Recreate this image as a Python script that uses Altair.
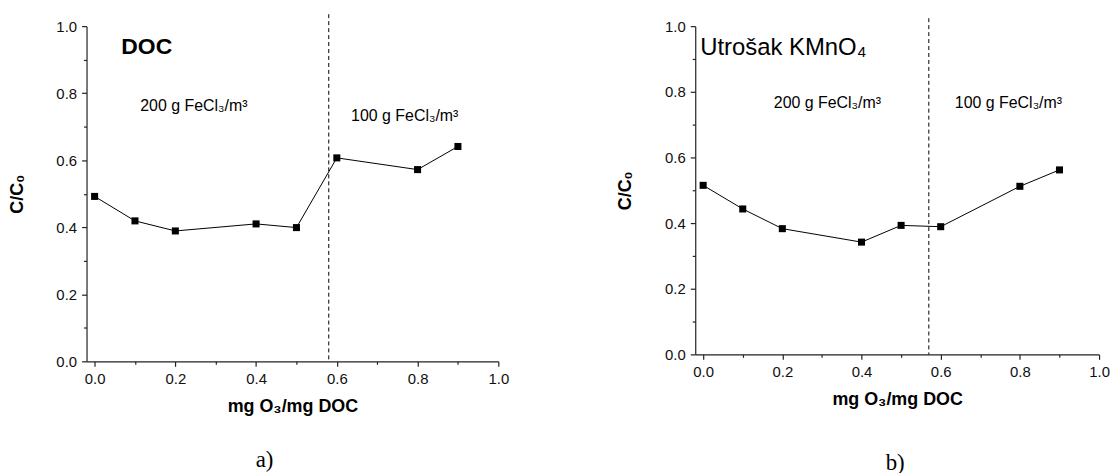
import altair as alt
import pandas as pd

# ---- data ----
x_vals = [0.0, 0.1, 0.2, 0.4, 0.5, 0.6, 0.8, 0.9]
doc_vals = [0.492, 0.419, 0.389, 0.410, 0.399, 0.607, 0.572, 0.641]
kmno4_vals = [0.515, 0.443, 0.383, 0.342, 0.393, 0.389, 0.512, 0.562]
divider_a = [0.58]
divider_b = [0.57]
tick_values = [0.0, 0.1, 0.2, 0.3, 0.4, 0.5, 0.6, 0.7, 0.8, 0.9, 1.0]
x_title = "mg O₃/mg DOC"
y_title = "C/C₀"
panel_titles = ["DOC", "Utrošak KMnO₄"]
dose_labels = ["200 g FeCl₃/m³", "100 g FeCl₃/m³"]
panel_letters = ["a)", "b)"]

FONT = "Liberation Sans"
MAJOR = "round(datum.value*10) % 2 == 0"

def make_axis(title, title_pad):
    return alt.Axis(
        values=tick_values,
        labelExpr=f"{MAJOR} ? format(datum.value, '.1f') : ''",
        tickSize={"expr": f"{MAJOR} ? 5 : 3"},
        title=title,
        titleFont=FONT, titleFontSize=18, titleFontWeight="bold", titleColor="black",
        titlePadding=title_pad,
        labelFont=FONT, labelFontSize=15, labelColor="#111", labelPadding=5,
        labelFlush=False, labelOverlap=False,
        domainColor="#222", tickColor="#222", domainWidth=1.2, tickWidth=1.2,
        grid=False,
    )

title_style_pos = {"DOC": (35, 21), "Utrošak KMnO₄": (5, 22)}

def panel(yvals, divider, width, height, title, title_style, dose_pos, letter_pos, dash_top):
    df = pd.DataFrame({"x": x_vals, "y": yvals})
    xs = alt.Scale(domain=[-0.02, 1.0], nice=False, zero=False)
    ys = alt.Scale(domain=[0, 1], nice=False)
    X = alt.X("x:Q", scale=xs, axis=make_axis(x_title, 11))
    Y = alt.Y("y:Q", scale=ys, axis=make_axis(y_title, 30))
    base = alt.Chart(df)
    line = base.mark_line(color="black", strokeWidth=1).encode(x=X, y=Y)
    pts = base.mark_point(shape="square", filled=True, color="black", size=50, opacity=1).encode(x=X, y=Y)
    rule = alt.Chart(pd.DataFrame({"x": divider})).mark_rule(
        color="black", strokeWidth=1, strokeDash=[4, 3]
    ).encode(x=alt.X("x:Q", scale=xs), y=alt.value(dash_top), y2=alt.value(height))
    ttl = alt.Chart(pd.DataFrame({"t": [title]})).mark_text(
        align="left", baseline="middle", font=FONT, color="black", **title_style
    ).encode(text="t:N", x=alt.value(title_style_pos[title][0]), y=alt.value(title_style_pos[title][1]))
    doses = []
    for lbl, (px, py) in zip(dose_labels, dose_pos):
        doses.append(alt.Chart(pd.DataFrame({"t": [lbl]})).mark_text(
            align="left", baseline="middle", font=FONT, fontSize=16, color="black"
        ).encode(text="t:N", x=alt.value(px), y=alt.value(py)))
    let = alt.Chart(pd.DataFrame({"t": [letter_pos[0]]})).mark_text(
        align="center", baseline="middle", font="Liberation Serif", fontSize=23, color="black"
    ).encode(text="t:N", x=alt.value(letter_pos[1]), y=alt.value(letter_pos[2]))
    return alt.layer(rule, line, pts, ttl, *doses, let).properties(width=width, height=height)

pa = panel(doc_vals, divider_a, 414, 337, panel_titles[0],
           {"fontSize": 23, "fontWeight": "bold"},
           [(54, 80), (266, 90)], (panel_letters[0], 179, 436), -12)
pb = panel(kmno4_vals, divider_b, 406, 330, panel_titles[1],
           {"fontSize": 24, "fontWeight": "normal"},
           [(79, 77), (261, 77)], (panel_letters[1], 201, 439), -8)

chart = alt.hconcat(pa, pb, spacing=108).properties(
    padding={"left": 8, "top": 12, "right": 0, "bottom": 0},
    background="white",
).configure_view(stroke=None)

chart.save("out.html", embed_options={"renderer": "svg", "actions": False})
